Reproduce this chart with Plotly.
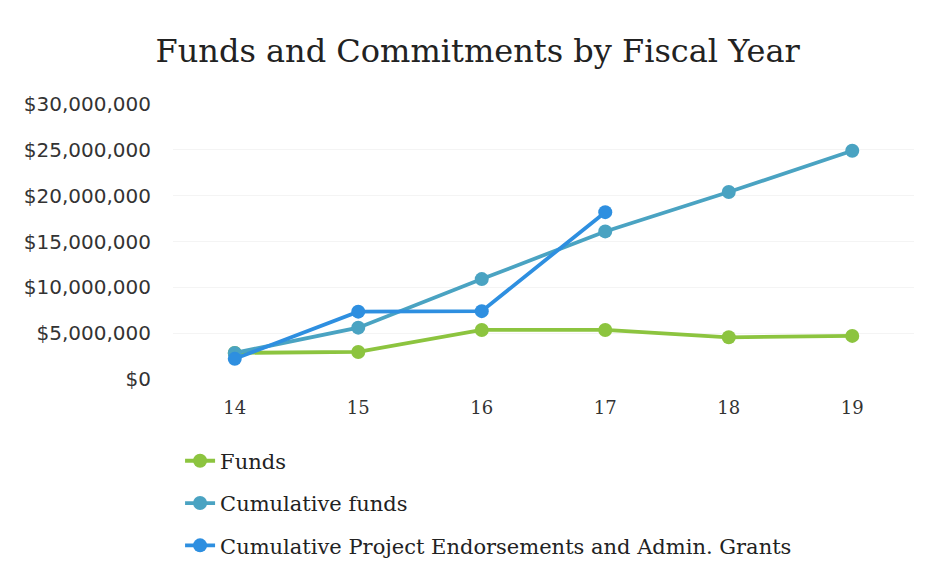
import plotly.graph_objects as go

years = ["14", "15", "16", "17", "18", "19"]
funds = [2.85e6, 2.95e6, 5.35e6, 5.35e6, 4.55e6, 4.7e6]
cumulative_funds = [2.85e6, 5.6e6, 10.9e6, 16.1e6, 20.4e6, 24.9e6]
cumulative_endorse = [2.2e6, 7.35e6, 7.4e6, 18.2e6, None, None]
y_ticks = [0, 5e6, 10e6, 15e6, 20e6, 25e6, 30e6]
y_tick_labels = ["$0", "$5,000,000", "$10,000,000", "$15,000,000",
                 "$20,000,000", "$25,000,000", "$30,000,000"]

series = [
    ("Funds", funds, "#8cc43f"),
    ("Cumulative funds", cumulative_funds, "#4aa3c2"),
    ("Cumulative Project Endorsements and Admin. Grants", cumulative_endorse, "#2e8fe0"),
]

fig = go.Figure()
for i, (name, vals, color) in enumerate(series):
    fig.add_trace(go.Scatter(
        x=years, y=vals, name=name, mode="lines+markers",
        line=dict(color=color, width=3.8),
        marker=dict(color=color, size=14),
        legendgroup=f"g{i}", cliponaxis=False,
    ))

fig.update_layout(
    width=933, height=579,
    paper_bgcolor="white", plot_bgcolor="white",
    margin=dict(l=173, r=19, t=104, b=200, autoexpand=False),
    title=dict(text="Funds and Commitments by Fiscal Year",
               font=dict(family="DejaVu Serif", size=32, color="#222"),
               x=0.512, xanchor="center", y=0.912, yanchor="middle"),
    xaxis=dict(type="category", range=[-0.5, 5.5], showgrid=False,
               showline=False, zeroline=False,
               ticks="outside", ticklen=12, tickcolor="white",
               tickfont=dict(family="DejaVu Serif", size=18, color="#333")),
    yaxis=dict(range=[0, 30e6], tickvals=y_ticks, ticktext=y_tick_labels,
               showgrid=True, gridcolor="#f4f4f4", zeroline=False, showline=False,
               ticks="outside", ticklen=17, tickcolor="white",
               tickfont=dict(family="DejaVu Sans", size=20, color="#333")),
    legend=dict(xref="container", yref="container",
                x=0.193, xanchor="left", y=0.239, yanchor="top",
                orientation="v", tracegroupgap=12,
                font=dict(family="DejaVu Serif", size=21, color="#222")),
    showlegend=True,
)

fig.write_html("out.html")
